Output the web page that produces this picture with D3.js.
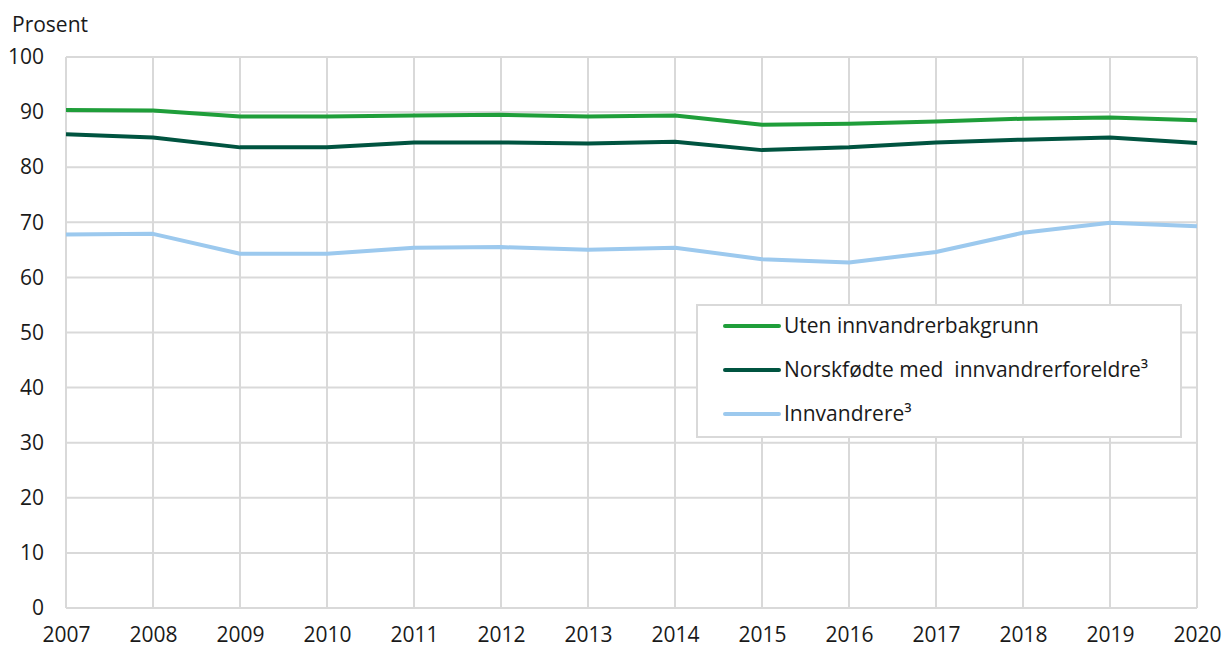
<!DOCTYPE html>
<html>
<head>
<meta charset="utf-8">
<script src="https://cdn.jsdelivr.net/npm/d3@7"></script>
<style>
  body { margin: 0; background: #fff; }
  svg, svg text { font-family: "Open Sans", sans-serif; }
  .tick text { font-size: 21px; fill: #1a1a1a; font-family: "Open Sans", sans-serif; }
</style>
</head>
<body>
<svg id="chart"></svg>
<script>
const years = [2007, 2008, 2009, 2010, 2011, 2012, 2013, 2014, 2015, 2016, 2017, 2018, 2019, 2020];
const utenBakgrunn = [90.4, 90.3, 89.2, 89.2, 89.4, 89.5, 89.2, 89.4, 87.7, 87.9, 88.3, 88.8, 89.0, 88.5];
const norskfodte = [86.0, 85.4, 83.6, 83.6, 84.5, 84.5, 84.3, 84.6, 83.1, 83.6, 84.5, 85.0, 85.4, 84.4];
const innvandrere = [67.8, 67.9, 64.3, 64.3, 65.4, 65.5, 65.0, 65.4, 63.3, 62.7, 64.6, 68.1, 69.9, 69.3];
const yTicks = [0, 10, 20, 30, 40, 50, 60, 70, 80, 90, 100];

const series = [
    { name: 'Uten innvandrerbakgrunn', values: utenBakgrunn, color: '#1f9e3a' },
    { name: 'Norskfødte med  innvandrerforeldre³', values: norskfodte, color: '#005440' },
    { name: 'Innvandrere³', values: innvandrere, color: '#9cc9ee' }
];

const W = 1226, H = 648;
const margin = { top: 57, right: 29, bottom: 40, left: 66 };
const width = W - margin.left - margin.right;
const height = H - margin.top - margin.bottom;

const svg = d3.select('#chart').attr('width', W).attr('height', H);
const g = svg.append('g').attr('transform', `translate(${margin.left},${margin.top})`);

const x = d3.scaleLinear().domain([2007, 2020]).range([0, width]);
const y = d3.scaleLinear().domain([0, 100]).range([height, 0]);

// grid
g.append('g').selectAll('line')
    .data(yTicks).enter().append('line')
    .attr('x1', 0).attr('x2', width)
    .attr('y1', d => y(d)).attr('y2', d => y(d))
    .attr('stroke', '#d9d9d9').attr('stroke-width', 2);
g.append('g').selectAll('line')
    .data(years).enter().append('line')
    .attr('x1', d => x(d)).attr('x2', d => x(d))
    .attr('y1', 0).attr('y2', height)
    .attr('stroke', '#d9d9d9').attr('stroke-width', 2);

// axes
const yAxis = g.append('g')
    .call(d3.axisLeft(y).tickValues(yTicks).tickSize(0).tickPadding(22));
yAxis.select('.domain').remove();

const xAxis = g.append('g')
    .attr('transform', `translate(0,${height})`)
    .call(d3.axisBottom(x).tickValues(years).tickFormat(d3.format('d')).tickSize(0).tickPadding(19));
xAxis.select('.domain').remove();

svg.append('text')
    .attr('x', 12).attr('y', 32)
    .style('font-size', '21px').style('fill', '#1a1a1a')
    .text('Prosent');

// lines
const line = d3.line()
    .x((d, i) => x(years[i]))
    .y(d => y(d));

g.selectAll('.series')
    .data(series).enter().append('path')
    .attr('fill', 'none')
    .attr('stroke', d => d.color)
    .attr('stroke-width', 4)
    .attr('stroke-linejoin', 'round')
    .attr('d', d => line(d.values));

// legend
const legend = svg.append('g').attr('transform', 'translate(697,305)');
legend.append('rect')
    .attr('width', 484).attr('height', 132)
    .attr('fill', '#fff').attr('stroke', '#d9d9d9').attr('stroke-width', 2);
const items = legend.selectAll('.item')
    .data(series).enter().append('g')
    .attr('transform', (d, i) => `translate(0,${21 + i * 44})`);
items.append('line')
    .attr('x1', 28).attr('x2', 82)
    .attr('stroke', d => d.color).attr('stroke-width', 4).attr('stroke-linecap', 'round');
items.append('text')
    .attr('x', 87).attr('dy', '0.35em')
    .style('font-size', '21px').style('fill', '#1a1a1a')
    .style('white-space', 'pre')
    .text(d => d.name);
</script>
</body>
</html>
